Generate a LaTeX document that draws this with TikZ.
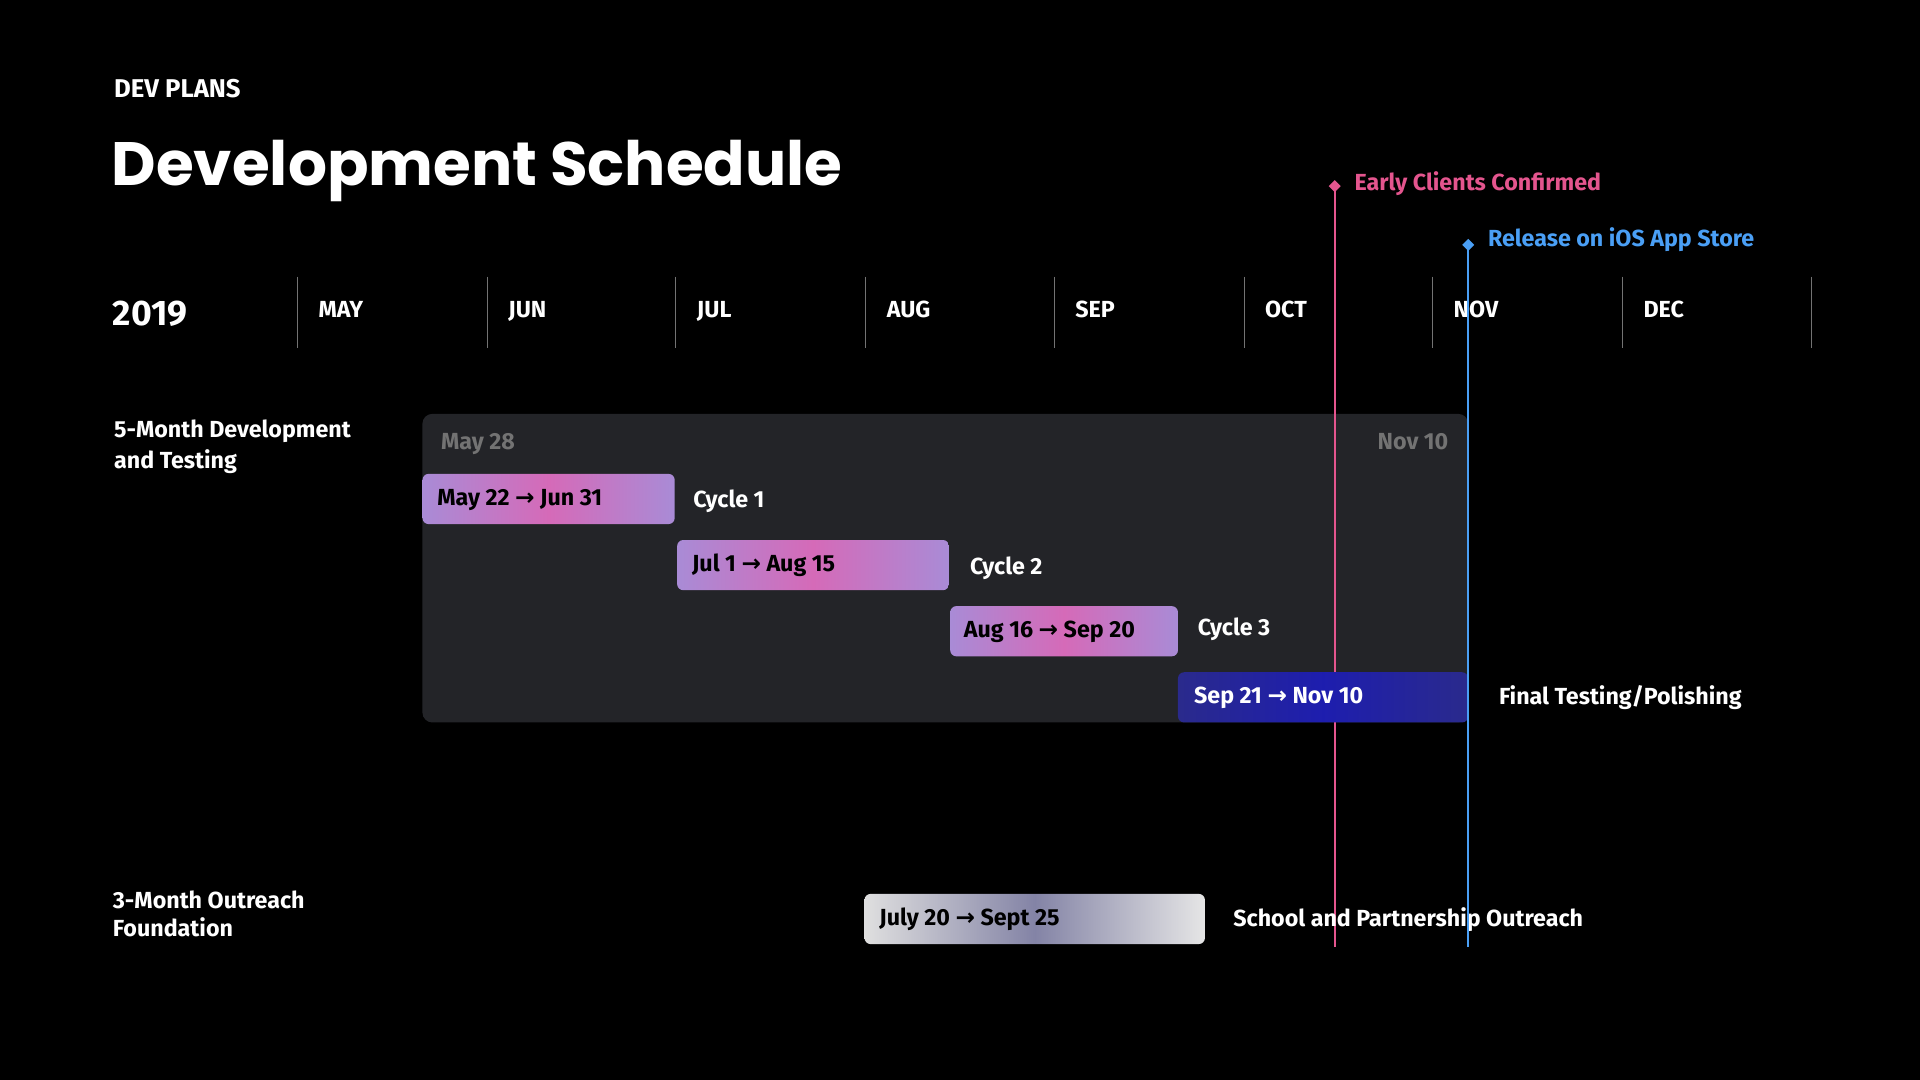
\documentclass[tikz,border=0pt]{standalone}
\usepackage{fontspec}
\setmainfont{Fira Sans}
\newfontfamily\titlefont{Poppins}
\newfontfamily\arrowfont{DejaVu Sans}
\usetikzlibrary{positioning,shapes.geometric}
\definecolor{panel}{HTML}{232428}
\definecolor{early}{HTML}{E4558E}
\definecolor{release}{HTML}{4A9FF5}
\definecolor{lilac}{HTML}{A98BD6}
\definecolor{rose}{HTML}{D56AB8}
\definecolor{navy}{HTML}{2A2A8C}
\newcommand{\arr}{{\arrowfont\bfseries →}}
\begin{document}
\begin{tikzpicture}[x=1pt,y=-1pt,
    label/.style={text=white, font=\bfseries\fontsize{19}{19}\selectfont, anchor=west, inner sep=0pt},
    month/.style={label, text height=1.4ex, text depth=0pt},
    bar/.style={rounded corners=5pt, left color=lilac, right color=lilac, middle color=rose},
    bartext/.style={font=\bfseries\fontsize{19}{19}\selectfont, anchor=west, inner sep=0pt},
    tick/.style={draw=white!45!black, line width=0.8pt},
    mile/.style={diamond, inner sep=0pt, minimum size=10pt},
  ]
  \useasboundingbox[fill=black] (0,0) rectangle (1568,882);
  % Headings
  \node[label, font=\bfseries\fontsize{21}{21}\selectfont] (kicker) at (93,72) {DEV PLANS};
  \node[label, font=\titlefont\bfseries\fontsize{50}{50}\selectfont] (title) at (91,140) {Development Schedule};
  \node[label, font=\bfseries\fontsize{29}{29}\selectfont] (year) at (92,256) {2019};

  % Months
  \foreach \x/\m in {243/MAY,398/JUN,552/JUL,707/AUG,861/SEP,1016/OCT,1170/NOV,1325/DEC}{
    \draw[tick] (\x,226) -- (\x,284);
    \node[month] (m\m) at (\x+17,256) {\m};
  }
  \draw[tick] (1479,226) -- (1479,284);

  % Development panel
  \fill[panel, rounded corners=8pt] (345,338) rectangle (1199,590);
  \node[month, text=white!45!black] (start) at (360,363) {May 28};
  \node[month, text=white!45!black, anchor=east] (finish) at (1183,363) {Nov 10};

  % Milestone lines
  \coordinate (earlytop) at (1090,152);
  \coordinate (earlybot) at (1090,773);
  \coordinate (reltop) at (1199,200);
  \coordinate (relbot) at (1199,773);
  \draw[early, line width=1.4pt] (earlytop) -- (earlybot);
  \node[mile, fill=early] (earlymark) at (earlytop) {};
  \node[month, text=early] (earlylabel) at (1106,152) {Early Clients Confirmed};

  % Bars
  \shade[bar] (345,387) rectangle (551,428);
  \node[bartext] (c1) at (357,408) {May 22 \arr\ Jun 31};
  \node[label] (cycle1) at (566,409) {Cycle 1};
  \shade[bar] (553,441) rectangle (775,482);
  \node[bartext] (c2) at (565,462) {Jul 1 \arr\ Aug 15};
  \node[label] (cycle2) at (792,464) {Cycle 2};
  \shade[bar] (776,495) rectangle (962,536);
  \node[bartext] (c3) at (787,516) {Aug 16 \arr\ Sep 20};
  \node[label] (cycle3) at (978,514) {Cycle 3};
  \shade[rounded corners=5pt, left color=navy, right color=navy, middle color=navy!70!blue] (962,549) rectangle (1199,590);
  \node[bartext, text=white] (c4) at (975,570) {Sep 21 \arr\ Nov 10};
  \node[label] (final) at (1224,570) {Final Testing/Polishing};

  \shade[rounded corners=5pt, left color=white!75!gray, right color=white!80!gray, middle color=white!55!blue!30!gray] (706,730) rectangle (984,771);
  \node[bartext] (out) at (718,751) {July 20 \arr\ Sept 25};
  \node[label] (school) at (1007,751) {School and Partnership Outreach};

  \draw[release, line width=1.4pt] (reltop) -- (relbot);
  \node[mile, fill=release] (relmark) at (reltop) {};
  \node[month, text=release] (rellabel) at (1215,198) {Release on iOS App Store};

  % Row titles
  \node[label, anchor=north west, align=left] (devrow) at (93,343) {5-Month Development\\[4pt]and Testing};
  \node[label, anchor=north west, align=left] (outrow) at (92,727) {3-Month Outreach\\[4pt]Foundation};
\end{tikzpicture}
\end{document}
